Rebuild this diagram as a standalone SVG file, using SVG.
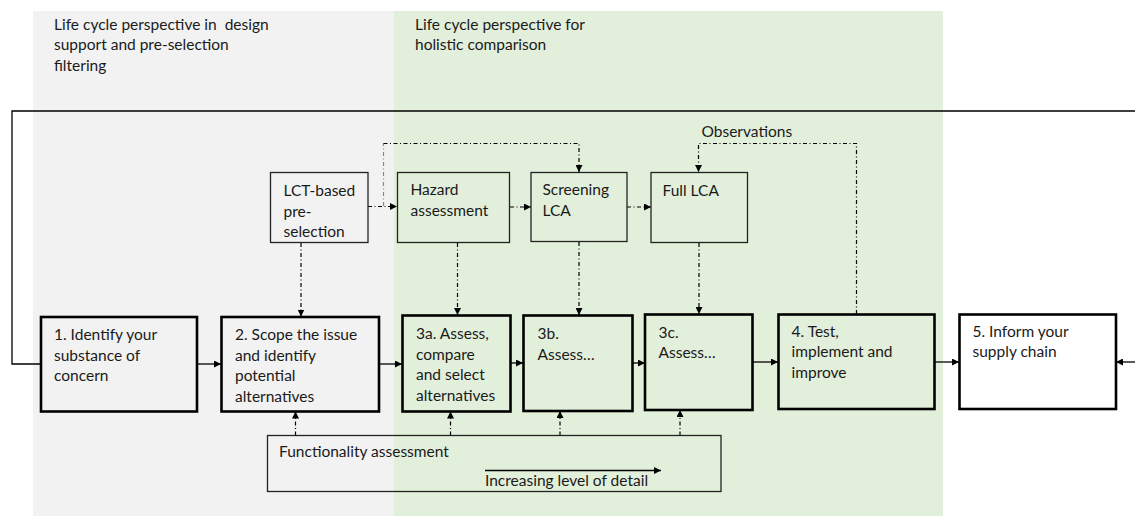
<svg xmlns="http://www.w3.org/2000/svg" width="1135" height="516" viewBox="0 0 1135 516">
<style>
text{font-family:Lato,"Liberation Sans",sans-serif;font-size:15.5px;fill:#1a1a1a;white-space:pre}
.main{fill:none;stroke:#000;stroke-width:2.6}
.sub{fill:none;stroke:#222;stroke-width:1.3}
.solid{fill:none;stroke:#000;stroke-width:1.3}
.dd{fill:none;stroke:#000;stroke-width:1.2;stroke-dasharray:4 2.5 1 2.5}
</style>
<defs>
<marker id="ah" viewBox="0 0 10 10" refX="10" refY="5" markerWidth="7" markerHeight="7" markerUnits="userSpaceOnUse" orient="auto">
<path d="M0,0 L10,5 L0,10 z" fill="#000"/>
</marker>
</defs>
<g id="backgrounds">
<rect x="33" y="11" width="361" height="505" fill="#F2F2F2"/>
<rect x="394" y="11" width="549" height="505" fill="#E2EFDA"/>
<text x="54" y="29.5" xml:space="preserve">Life cycle perspective in  design</text>
<text x="54" y="50">support and pre-selection</text>
<text x="54" y="70.5">filtering</text>
<text x="415" y="29.5">Life cycle perspective for</text>
<text x="415" y="50">holistic comparison</text>
</g>
<g id="connectors">
<path class="solid" d="M1135,111 H12 V364 H41"/>
<path class="solid" d="M197,364 H221" marker-end="url(#ah)"/>
<path class="solid" d="M379,364 H402" marker-end="url(#ah)"/>
<path class="solid" d="M511,363 H523" marker-end="url(#ah)"/>
<path class="solid" d="M632,363 H645" marker-end="url(#ah)"/>
<path class="solid" d="M752,362 H778" marker-end="url(#ah)"/>
<path class="solid" d="M934,362 H959" marker-end="url(#ah)"/>
<path class="solid" d="M1135,362 H1116" marker-end="url(#ah)"/>
<path class="dd" d="M368,206.5 H397" marker-end="url(#ah)"/>
<path class="dd" style="stroke:#888" d="M383.5,206 V143.5"/>
<path class="dd" d="M383.5,143.5 H579 V172" marker-end="url(#ah)"/>
<path class="dd" d="M510,207 H531" marker-end="url(#ah)"/>
<path class="dd" d="M627,207 H651" marker-end="url(#ah)"/>
<path class="dd" d="M856.5,314 V143.5 H698.5 V172" marker-end="url(#ah)"/>
<path class="dd" d="M301,243 V316.5" marker-end="url(#ah)"/>
<path class="dd" d="M457.5,243 V315" marker-end="url(#ah)"/>
<path class="dd" d="M579,242 V315" marker-end="url(#ah)"/>
<path class="dd" d="M699,243 V314" marker-end="url(#ah)"/>
<path class="dd" d="M295.5,435.5 V411.5" marker-end="url(#ah)"/>
<path class="dd" d="M450.5,435.5 V411.5" marker-end="url(#ah)"/>
<path class="dd" d="M560,435.5 V411" marker-end="url(#ah)"/>
<path class="dd" d="M680,435.5 V410" marker-end="url(#ah)"/>
<path class="solid" d="M485,470.5 H661" marker-end="url(#ah)"/>
<text x="701.5" y="137">Observations</text>
</g>
<g id="n1">
<rect class="main" x="41" y="317" width="156" height="94.5"/>
<text x="54" y="340">1. Identify your</text>
<text x="54" y="360.7">substance of</text>
<text x="54" y="381.4">concern</text>
</g>
<g id="n2">
<rect class="main" x="221.5" y="317" width="157.5" height="94.5"/>
<text x="235" y="340">2. Scope the issue</text>
<text x="235" y="360.7">and identify</text>
<text x="235" y="381.4">potential</text>
<text x="235" y="402">alternatives</text>
</g>
<g id="n3a">
<rect class="main" x="402.5" y="315.5" width="108" height="96"/>
<text x="416" y="339">3a. Assess,</text>
<text x="416" y="359.7">compare</text>
<text x="416" y="380.4">and select</text>
<text x="416" y="401.1">alternatives</text>
</g>
<g id="n3b">
<rect class="main" x="523.5" y="315.5" width="109" height="95.5"/>
<text x="537.5" y="339">3b.</text>
<text x="537.5" y="359.7">Assess…</text>
</g>
<g id="n3c">
<rect class="main" x="645" y="314.5" width="107.5" height="95.5"/>
<text x="658.5" y="337.7">3c.</text>
<text x="658.5" y="358.4">Assess…</text>
</g>
<g id="n4">
<rect class="main" x="778.5" y="314.5" width="156" height="94.5"/>
<text x="791.5" y="336.7">4. Test,</text>
<text x="791.5" y="357.4">implement and</text>
<text x="791.5" y="378.1">improve</text>
</g>
<g id="n5">
<rect class="main" x="959.5" y="314.5" width="156.5" height="94.5" style="fill:#fff"/>
<text x="972.5" y="336.7">5. Inform your</text>
<text x="972.5" y="357.4">supply chain</text>
</g>
<g id="lct">
<rect class="sub" x="270.5" y="172.5" width="97.5" height="70"/>
<text x="283.5" y="196">LCT-based</text>
<text x="283.5" y="216.7">pre-</text>
<text x="283.5" y="237.4">selection</text>
</g>
<g id="hazard">
<rect class="sub" x="397.5" y="172.5" width="112" height="70"/>
<text x="410.5" y="195">Hazard</text>
<text x="410.5" y="215.7">assessment</text>
</g>
<g id="screening">
<rect class="sub" x="531" y="172.5" width="96" height="69"/>
<text x="542.5" y="195">Screening</text>
<text x="542.5" y="215.7">LCA</text>
</g>
<g id="fulllca">
<rect class="sub" x="651" y="172.5" width="96.5" height="70"/>
<text x="662.5" y="196">Full LCA</text>
</g>
<g id="functionality">
<rect class="sub" x="267.5" y="435.5" width="453.5" height="56"/>
<text x="279" y="457.3">Functionality assessment</text>
<text x="485" y="485.7">Increasing level of detail</text>
</g>
</svg>
